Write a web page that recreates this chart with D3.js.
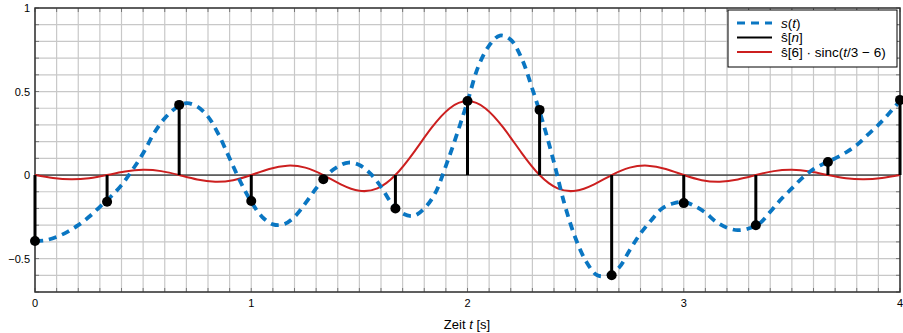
<!DOCTYPE html>
<html><head><meta charset="utf-8">
<script src="https://cdn.jsdelivr.net/npm/d3@7"></script>
<style>
body{margin:0;background:#fff;}
text{font-family:"Liberation Sans",Arial,sans-serif;}
</style></head>
<body><svg id="c" width="903" height="333"></svg>
<script>
// sample times n/3, n = 0..12 and sample values s^[n]
const sampleT = [0,1/3,2/3,1,4/3,5/3,2,7/3,8/3,3,10/3,11/3,4];
const sampleV = [-0.395,-0.16,0.42,-0.155,-0.025,-0.20,0.443,0.39,-0.60,-0.168,-0.30,0.078,0.45];
// continuous signal s(t), read at t = 0, 0.05, ..., 4
const sigStep = 0.05;
const sigV = [-0.395,-0.39,-0.37,-0.34,-0.30,-0.25,-0.19,-0.13,-0.06,0.03,
  0.13,0.25,0.34,0.40,0.43,0.41,0.35,0.24,0.10,-0.04,
  -0.16,-0.25,-0.295,-0.295,-0.25,-0.17,-0.08,0.00,0.05,0.075,
  0.06,0.01,-0.07,-0.17,-0.23,-0.245,-0.20,-0.11,0.055,0.24,
  0.44,0.65,0.775,0.835,0.81,0.70,0.515,0.31,0.075,-0.18,
  -0.38,-0.52,-0.60,-0.60,-0.555,-0.45,-0.35,-0.27,-0.20,-0.17,
  -0.16,-0.185,-0.225,-0.28,-0.315,-0.33,-0.32,-0.29,-0.22,-0.145,
  -0.08,-0.015,0.035,0.07,0.10,0.135,0.18,0.24,0.30,0.37,0.445];
// s^[6]·sinc(t/3-6) at t = 0, 1/12, ..., 4
const sincStep = 1/12;
const sincV = [0,-0.0173,-0.0256,-0.0190,0,0.0210,0.0313,0.0235,0,-0.0266,-0.0403,-0.0307,
  0,0.0363,0.0564,0.0443,0,-0.0570,-0.0940,-0.0798,0,0.1330,0.2820,0.3989,
  0.443,0.3989,0.2820,0.1330,0,-0.0798,-0.0940,-0.0570,0,0.0443,0.0564,0.0363,
  0,-0.0307,-0.0403,-0.0266,0,0.0235,0.0313,0.0210,0,-0.0190,-0.0256,-0.0173,0];
const xTicks = [0,1,2,3,4];
const yTicks = [-0.5,0,0.5,1];
const xLabel = "Zeit t [s]";

const svg = d3.select("#c");
const L=35,R=900,T=8,B=292;
const x = d3.scaleLinear().domain([0,4]).range([L,R]);
const y = d3.scaleLinear().domain([-0.7,1]).range([B,T]);

const grid = svg.append("g");
const gx = d3.range(0,41).map(i=>i/10);
const gy = d3.range(-7,11).map(i=>i/10);
grid.selectAll(".vx").data(gx).join("line")
  .attr("x1",d=>x(d)).attr("x2",d=>x(d)).attr("y1",T).attr("y2",B)
  .attr("stroke","#c8c8c8").attr("stroke-width",1.2);
grid.selectAll(".hy").data(gy).join("line")
  .attr("y1",d=>y(d)).attr("y2",d=>y(d)).attr("x1",L).attr("x2",R)
  .attr("stroke","#c8c8c8").attr("stroke-width",1.2);

// minor ticks inward on all sides
const tk = svg.append("g").attr("stroke","#777").attr("stroke-width",1);
tk.selectAll(".tb").data(gx).join("line").attr("x1",d=>x(d)).attr("x2",d=>x(d)).attr("y1",B).attr("y2",B-4);
tk.selectAll(".tt").data(gx).join("line").attr("x1",d=>x(d)).attr("x2",d=>x(d)).attr("y1",T).attr("y2",T+4);
tk.selectAll(".tl").data(gy).join("line").attr("y1",d=>y(d)).attr("y2",d=>y(d)).attr("x1",L).attr("x2",L+4);
tk.selectAll(".tr").data(gy).join("line").attr("y1",d=>y(d)).attr("y2",d=>y(d)).attr("x1",R).attr("x2",R-4);

// zero line
svg.append("line").attr("x1",x(0)).attr("x2",x(4)).attr("y1",y(0)).attr("y2",y(0))
  .attr("stroke","#000").attr("stroke-width",1);

// frame
svg.append("rect").attr("x",L).attr("y",T).attr("width",R-L).attr("height",B-T)
  .attr("fill","none").attr("stroke","#333").attr("stroke-width",1.5);

// sinc curve
svg.append("path").datum(sincV)
  .attr("d",d3.line().x((d,i)=>x(i*sincStep)).y(d=>y(d)).curve(d3.curveNatural))
  .attr("fill","none").attr("stroke","#cc1f1f").attr("stroke-width",2);

// s(t)
svg.append("path").datum(sigV)
  .attr("d",d3.line().x((d,i)=>x(i*sigStep)).y(d=>y(d)).curve(d3.curveCatmullRom))
  .attr("fill","none").attr("stroke","#0a76c2").attr("stroke-width",3.8)
  .attr("stroke-dasharray","8,6");

// stems
svg.append("g").selectAll("line").data(sampleV).join("line")
  .attr("x1",(d,i)=>x(sampleT[i])).attr("x2",(d,i)=>x(sampleT[i]))
  .attr("y1",y(0)).attr("y2",d=>y(d)).attr("stroke","#000").attr("stroke-width",3);
svg.append("g").selectAll("circle").data(sampleV).join("circle")
  .attr("cx",(d,i)=>x(sampleT[i])).attr("cy",d=>y(d)).attr("r",5).attr("fill","#000");

// tick labels
svg.append("g").selectAll("text").data(xTicks).join("text")
  .attr("x",d=>x(d)).attr("y",307).attr("text-anchor","middle")
  .attr("font-size",11).text(d=>d);
svg.append("g").selectAll("text").data(yTicks).join("text")
  .attr("x",30).attr("y",d=>y(d)+4).attr("text-anchor","end")
  .attr("font-size",11).text(d=>d<0? "\u2212"+Math.abs(d) : d);

// x label
const xl = svg.append("text").attr("x",467).attr("y",329).attr("text-anchor","middle").attr("font-size",13);
xl.append("tspan").text("Zeit ");
xl.append("tspan").attr("font-style","italic").text("t");
xl.append("tspan").text(" [s]");

// legend
const lg = svg.append("g");
lg.append("rect").attr("x",728).attr("y",10).attr("width",169).attr("height",57)
  .attr("fill","#fff").attr("stroke","#000").attr("stroke-width",1);
const rows=[23,37.5,52];
lg.append("line").attr("x1",737).attr("x2",772).attr("y1",rows[0]).attr("y2",rows[0])
  .attr("stroke","#0a76c2").attr("stroke-width",3).attr("stroke-dasharray","8,6");
lg.append("line").attr("x1",737).attr("x2",772).attr("y1",rows[1]).attr("y2",rows[1])
  .attr("stroke","#000").attr("stroke-width",2);
lg.append("line").attr("x1",737).attr("x2",772).attr("y1",rows[2]).attr("y2",rows[2])
  .attr("stroke","#cc1f1f").attr("stroke-width",2);
const fs = 13.5;
const t1 = lg.append("text").attr("x",781).attr("y",rows[0]+4.5).attr("font-size",fs);
t1.append("tspan").attr("font-style","italic").text("s");
t1.append("tspan").text("(");
t1.append("tspan").attr("font-style","italic").text("t");
t1.append("tspan").text(")");
const t2 = lg.append("text").attr("x",781).attr("y",rows[1]+4.5).attr("font-size",fs);
t2.append("tspan").text("\u015D[");
t2.append("tspan").attr("font-style","italic").text("n");
t2.append("tspan").text("]");
const t3 = lg.append("text").attr("x",781).attr("y",rows[2]+4.5).attr("font-size",fs);
t3.append("tspan").text("\u015D[6] \u00B7 sinc(");
t3.append("tspan").attr("font-style","italic").text("t");
t3.append("tspan").text("/3 \u2212 6)");
</script></body></html>
